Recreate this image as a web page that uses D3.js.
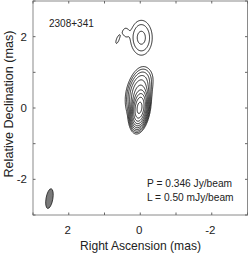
<!DOCTYPE html>
<html>
<head>
<meta charset="utf-8">
<script src="https://cdn.jsdelivr.net/npm/d3@7"></script>
<style>
  body { margin: 0; background: #fff; }
  text { font-family: "Liberation Sans", Arial, sans-serif; fill: #222; }
</style>
</head>
<body>
<div id="plot"></div>
<script>
// Source name and map annotations
var sourceName = "2308+341";
var peakLabel = "P = 0.346 Jy/beam";
var lowLabel = "L = 0.50 mJy/beam";

// Gaussian model components: RA, Dec (mas), peak (mJy/beam), FWHM major/minor (mas), PA (deg)
var compRA    = [0.02, 0.04, -0.12, -0.03, 0.41, 0.63];
var compDec   = [0.00, 0.42,  0.85,  1.97, 2.12, 1.92];
var compPeak  = [340,  20,    0.8,   2.5,  0.65, 0.62];
var compMaj   = [0.48, 0.62,  0.40,  0.64, 0.30, 0.42];
var compMin   = [0.20, 0.31,  0.35,  0.40, 0.18, 0.13];
var compPA    = [-8,   -12,   -10,   0,    0,    -20];

// Contour levels: L * 2^n
var levels = [0.5, 1, 2, 4, 8, 16, 32, 64, 128, 256];

// Restoring beam
var beamRA = [2.54], beamDec = [-2.54], beamMaj = [0.56], beamMin = [0.19], beamPA = [-10];

// Axis ticks
var ticks = [-3, -2, -1, 0, 1, 2, 3];
var tickLabels = [-2, 0, 2];

var width = 249, height = 254;
var pLeft = 33, pRight = 247.5, pTop = 1, pBottom = 215;

var svg = d3.select("#plot")
     .append("svg")
     .attr("width", width)
     .attr("height", height);

var x = d3.scaleLinear().domain([3, -3]).range([pLeft, pRight]);
var y = d3.scaleLinear().domain([-3, 3]).range([pBottom, pTop]);

// build model image on a grid
var step = 0.02;
var n = Math.round(6 / step) + 1;
var grid = new Float64Array(n * n);
for (var j = 0; j < n; j++) {
     var dec = 3 - j * step;
     for (var i = 0; i < n; i++) {
          var ra = 3 - i * step;
          var v = 0;
          for (var k = 0; k < compRA.length; k++) {
               var sMaj = compMaj[k] / 2.3548, sMin = compMin[k] / 2.3548;
               var pa = compPA[k] * Math.PI / 180;
               var dx = ra - compRA[k], dy = dec - compDec[k];
               // rotate into major/minor frame (PA from north through east)
               var u = dx * Math.sin(pa) + dy * Math.cos(pa);
               var w = dx * Math.cos(pa) - dy * Math.sin(pa);
               v += compPeak[k] * Math.exp(-0.5 * (u * u / (sMaj * sMaj) + w * w / (sMin * sMin)));
          }
          grid[i + j * n] = v;
     }
}

var contours = d3.contours().size([n, n]).thresholds(levels)(grid);

var proj = d3.geoTransform({
     point: function(px, py) {
          this.stream.point(x(3 - (px - 0.5) * step), y(3 - (py - 0.5) * step));
     }
});

svg.append("clipPath").attr("id", "clip")
     .append("rect")
     .attr("x", pLeft).attr("y", pTop)
     .attr("width", pRight - pLeft).attr("height", pBottom - pTop);

svg.append("g")
     .attr("clip-path", "url(#clip)")
     .selectAll("path")
     .data(contours)
     .enter()
     .append("path")
     .attr("d", d3.geoPath(proj))
     .attr("fill", "none")
     .attr("stroke", "#111")
     .attr("stroke-width", 0.9);

// beam
var pxPerMas = x(0) - x(1);
svg.selectAll(".beam")
     .data(beamRA)
     .enter()
     .append("ellipse")
     .attr("class", "beam")
     .attr("cx", function(d, i) { return x(d); })
     .attr("cy", function(d, i) { return y(beamDec[i]); })
     .attr("rx", function(d, i) { return beamMin[i] / 2 * pxPerMas; })
     .attr("ry", function(d, i) { return beamMaj[i] / 2 * pxPerMas; })
     .attr("transform", function(d, i) { return "rotate(" + (-beamPA[i]) + "," + x(d) + "," + y(beamDec[i]) + ")"; })
     .attr("fill", "#7a7a7a")
     .attr("stroke", "#222")
     .attr("stroke-width", 0.8);

// frame
svg.append("rect")
     .attr("x", pLeft).attr("y", pTop)
     .attr("width", pRight - pLeft).attr("height", pBottom - pTop)
     .attr("fill", "none")
     .attr("stroke", "#8a8a8a")
     .attr("stroke-width", 1);

// inward ticks on all four sides
var tl = 2.5;
var tg = svg.append("g").attr("stroke", "#666").attr("stroke-width", 1);
ticks.forEach(function(t) {
     tg.append("line").attr("x1", x(t)).attr("x2", x(t)).attr("y1", pBottom).attr("y2", pBottom - tl);
     tg.append("line").attr("x1", x(t)).attr("x2", x(t)).attr("y1", pTop).attr("y2", pTop + tl);
     tg.append("line").attr("y1", y(t)).attr("y2", y(t)).attr("x1", pLeft).attr("x2", pLeft + tl);
     tg.append("line").attr("y1", y(t)).attr("y2", y(t)).attr("x1", pRight).attr("x2", pRight - tl);
});

svg.selectAll(".xlab")
     .data(tickLabels)
     .enter()
     .append("text")
     .attr("x", function(d) { return x(d) + (d < 0 ? -1.5 : -1); })
     .attr("y", 233.5)
     .attr("text-anchor", "middle")
     .style("font-size", "11.5px")
     .text(function(d) { return d; });

svg.selectAll(".ylab")
     .data(tickLabels)
     .enter()
     .append("text")
     .attr("x", 27)
     .attr("y", function(d) { return y(d) + 4; })
     .attr("text-anchor", "end")
     .style("font-size", "11.5px")
     .text(function(d) { return d; });

svg.append("text")
     .attr("x", 140.5)
     .attr("y", 250)
     .attr("text-anchor", "middle")
     .style("font-size", "12.1px")
     .text("Right Ascension (mas)");

svg.append("text")
     .attr("transform", "translate(12.5,104) rotate(-90)")
     .attr("text-anchor", "middle")
     .style("font-size", "12.6px")
     .text("Relative Declination (mas)");

svg.append("text")
     .attr("x", 49).attr("y", 27)
     .style("font-size", "10px")
     .text(sourceName);

svg.append("text")
     .attr("x", 147).attr("y", 187)
     .style("font-size", "10.2px")
     .text(peakLabel);

svg.append("text")
     .attr("x", 147).attr("y", 201)
     .style("font-size", "10.2px")
     .text(lowLabel);
</script>
</body>
</html>
